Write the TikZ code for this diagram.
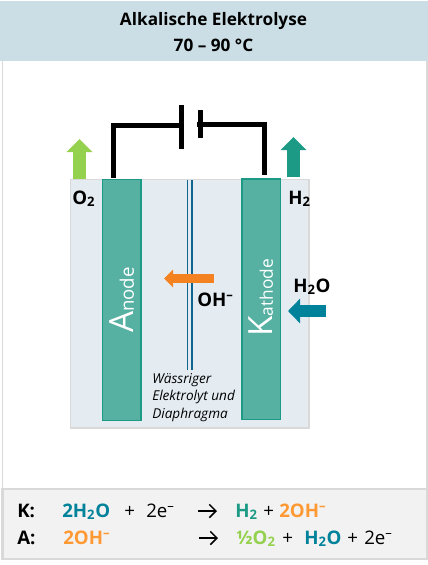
\documentclass[tikz,border=0pt]{standalone}
\usepackage{fontspec}
\setmainfont{Open Sans}
\usepackage{tikz}
\usetikzlibrary{arrows.meta}
\usepackage{xcolor}
\definecolor{headblue}{HTML}{CBDDE5}
\definecolor{framegray}{HTML}{D9D9D9}
\definecolor{boxgray}{HTML}{F2F2F2}
\definecolor{cellblue}{HTML}{E4ECF2}
\definecolor{electrode}{HTML}{57B1A3}
\definecolor{hteal}{HTML}{1C9A85}
\definecolor{ogreen}{HTML}{94D14E}
\definecolor{waterteal}{HTML}{00829B}
\definecolor{ionorange}{HTML}{F58220}
\definecolor{eqorange}{HTML}{FF9933}
\definecolor{membrane}{HTML}{0F6490}
\tikzset{
  electrodebox/.style={draw=hteal, fill=electrode, line width=1.2pt, minimum width=29pt, anchor=north west, inner sep=0pt},
  electrodelabel/.style={text=white, rotate=90, inner sep=0pt},
  wire/.style={line width=3.75pt},
  blockarrow/.style n args={3}{line width=#1, -{Triangle[length=#2,width=#3]}},
  gaslabel/.style={font=\fontsize{14}{17}\selectfont\bfseries, inner sep=0pt, anchor=base west},
  eqtext/.style={font=\fontsize{14}{17}\selectfont, inner sep=0pt, anchor=base west},
  eqbold/.style={eqtext, font=\fontsize{14}{17}\selectfont\bfseries},
  reactarrow/.style={line width=1.1pt, -{Straight Barb[length=5pt,width=10pt]}}
}
\begin{document}
\begin{tikzpicture}[x=0.75pt, y=-0.75pt]
  \useasboundingbox (0,0) rectangle (428,565);
  % frame and title
  \draw[framegray, line width=1.1pt] (2.5,60) -- (2.5,490);
  \draw[framegray, line width=1.1pt] (427,60) -- (427,490);
  \fill[headblue] (0,1) rectangle (428,61);
  \node[align=center, font=\fontsize{12.9}{18.9}\selectfont\bfseries, inner sep=0pt] (title) at (213.5,32) {Alkalische Elektrolyse\\70 -- 90 °C};

  % cell
  \draw[framegray, fill=cellblue, line width=1.1pt] (70.5,179.5) rectangle (309,428);
  \node[electrodebox, minimum height=181pt] (anode) at (101.5,178.5) {};
  \node[electrodebox, minimum height=180.5pt] (kathode) at (241,178) {};
  \node[electrodelabel] (anodetext) at (122,300) {\fontsize{25}{25}\selectfont A\fontsize{14}{14}\selectfont node};
  \node[electrodelabel] (kathodetext) at (261,298) {\fontsize{25}{25}\selectfont K\fontsize{13}{13}\selectfont athode};

  % diaphragm
  \draw[membrane, line width=0.6pt] (187.5,180) -- (187.5,370);
  \draw[membrane, line width=1.4pt] (191.7,180) -- (191.7,370);

  % battery and wires
  \coordinate (plateL) at (181.5,125);
  \coordinate (plateR) at (197,124.5);
  \draw[wire] (113,178) -- (113,125) -- (plateL);
  \draw[wire] (plateR) -- (267,124.5);
  \draw[wire] (264.5,122.5) -- (264.5,175);
  \draw[line width=3.75pt] (181.5,105) -- (181.5,148.5);
  \draw[line width=3.75pt] (200.5,110) -- (200.5,137.5);

  % gas and ion arrows
  \draw[ogreen, blockarrow={9.75pt}{9.75pt}{18.75pt}] (79.5,179) -- (79.5,139);
  \draw[hteal, blockarrow={9.75pt}{9.75pt}{18.75pt}] (293.5,177) -- (293.5,137);
  \draw[ionorange, blockarrow={6.75pt}{6.75pt}{12.75pt}] (214,278.5) -- (164,278.5);
  \draw[waterteal, blockarrow={9pt}{9pt}{18pt}] (326,311) -- (288,311);

  \node[gaslabel] (otwo) at (72,204) {O\textsubscript{2}};
  \node[gaslabel] (htwo) at (288,204) {H\textsubscript{2}};
  \node[gaslabel] (oh) at (197,306) {OH\textsuperscript{--}};
  \node[gaslabel] (water) at (293,292) {H\textsubscript{2}O};
  \node[align=left, font=\fontsize{10.2}{13.2}\selectfont\itshape, inner sep=0pt, anchor=north west] (note) at (152,373) {Wässriger\\Elektrolyt und\\Diaphragma};

  % reactions
  \draw[framegray, fill=boxgray, line width=1.5pt] (2.5,488.5) rectangle (426.5,558.5);
  \node[eqbold] (klabel) at (17,517) {K:};
  \node[eqbold, waterteal] (keduct) at (62,517) {2H\textsubscript{2}O};
  \node[eqtext] (kplus) at (124,517) {+};
  \node[eqtext] (kel) at (146,517) {2e\textsuperscript{--}};
  \coordinate (karrowstart) at (198,511);
  \coordinate (karrowend) at (217,511);
  \draw[reactarrow] (karrowstart) -- (karrowend);
  \node[eqbold, hteal] (khyd) at (235,517) {H\textsubscript{2}};
  \node[eqtext] (kplusb) at (263,517) {+};
  \node[eqbold, eqorange] (koh) at (279,517) {2OH\textsuperscript{--}};

  \node[eqbold] (alabel) at (17,544) {A:};
  \node[eqbold, eqorange] (aoh) at (63,544) {2OH\textsuperscript{--}};
  \coordinate (aarrowstart) at (199,538);
  \coordinate (aarrowend) at (218,538);
  \draw[reactarrow] (aarrowstart) -- (aarrowend);
  \node[eqbold, ogreen] (aoxy) at (236,544) {½O\textsubscript{2}};
  \node[eqtext] (aplus) at (282,544) {+};
  \node[eqbold, waterteal] (awater) at (304,544) {H\textsubscript{2}O};
  \node[eqtext] (aplusb) at (347,544) {+};
  \node[eqtext] (ael) at (364,544) {2e\textsuperscript{--}};
\end{tikzpicture}
\end{document}
